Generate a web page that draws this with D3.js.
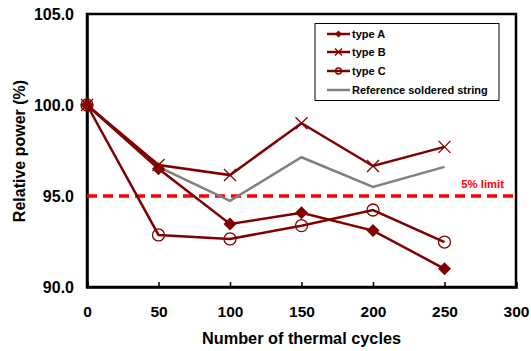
<!DOCTYPE html>
<html><head><meta charset="utf-8">
<script src="https://cdn.jsdelivr.net/npm/d3@7"></script>
<style>body{margin:0;background:#fff}svg{display:block;font-family:"Liberation Sans",Arial,sans-serif;font-weight:bold}</style>
</head><body><svg id="c" width="531" height="351"></svg>
<script>
const cycles = [0, 50, 100, 150, 200, 250];
const typeA = [100, 96.5, 93.46, 94.08, 93.1, 91.0];
const typeB = [100, 96.7, 96.15, 99.0, 96.65, 97.7];
const typeC = [100, 92.86, 92.64, 93.37, 94.23, 92.47];
const refString = [100, 96.6, 94.73, 97.13, 95.5, 96.6];
const limitValue = 95;
const xTicks = [0, 50, 100, 150, 200, 250, 300];
const yTicks = [90, 95, 100, 105];
const seriesNames = ["type A", "type B", "type C", "Reference soldered string"];

const svg = d3.select("#c");
const L = 87, R = 516, T = 14, B = 287;
const x = d3.scaleLinear().domain([0, 300]).range([L, R]);
const y = d3.scaleLinear().domain([90, 105]).range([B, T]);
const dark = "#800000", gray = "#808080";

// frame
svg.append("rect").attr("x", L).attr("y", T).attr("width", R - L).attr("height", B - T)
  .attr("fill", "none").attr("stroke", "#000").attr("stroke-width", 2.5);

// x axis
const xa = svg.append("g").attr("transform", `translate(0,${B})`)
  .call(d3.axisBottom(x).tickValues(xTicks).tickSize(-5).tickPadding(18.5).tickFormat(d3.format("d")));
xa.select(".domain").attr("stroke-width", 2.5);
xa.selectAll(".tick line").attr("stroke-width", 1.5);
xa.selectAll("text").attr("font-size", 15.5).attr("font-family", "Liberation Sans").attr("font-weight", "bold").attr("fill", "#000");

// y axis
const ya = svg.append("g").attr("transform", `translate(${L},0)`)
  .call(d3.axisLeft(y).tickValues(yTicks).tickSize(0).tickPadding(13).tickFormat(d3.format(".1f")));
ya.select(".domain").attr("stroke-width", 2.5);
ya.selectAll("text").attr("font-size", 16).attr("font-family", "Liberation Sans").attr("font-weight", "bold").attr("fill", "#000");

// axis titles
svg.append("text").attr("x", 301.5).attr("y", 343.5).attr("text-anchor", "middle")
  .attr("font-size", 16.3).text("Number of thermal cycles");
svg.append("text").attr("transform", `translate(24.5,151) rotate(-90)`).attr("text-anchor", "middle")
  .attr("font-size", 16).text("Relative power (%)");

// limit line
svg.append("line").attr("x1", L).attr("x2", R).attr("y1", y(limitValue)).attr("y2", y(limitValue))
  .attr("stroke", "#ff0000").attr("stroke-width", 3.5).attr("stroke-dasharray", "10,6");
svg.append("text").attr("x", 504).attr("y", y(limitValue) - 8).attr("text-anchor", "end")
  .attr("font-size", 11.3).attr("fill", "#ff0000").text("5% limit");

const line = d3.line().x((d, i) => x(cycles[i])).y(d => y(d));
function drawLine(data, color, w) {
  svg.append("path").datum(data).attr("d", line).attr("fill", "none")
    .attr("stroke", color).attr("stroke-width", w).attr("stroke-linejoin", "miter");
}
drawLine(refString, gray, 2.5);
drawLine(typeC, dark, 2.5);
drawLine(typeB, dark, 2.5);
drawLine(typeA, dark, 2.5);

function diamond(g, cx, cy, s) {
  g.append("path").attr("d", `M${cx},${cy - s}L${cx + s},${cy}L${cx},${cy + s}L${cx - s},${cy}Z`).attr("fill", dark);
}
function cross(g, cx, cy, s) {
  g.append("path").attr("d", `M${cx - s},${cy - s}L${cx + s},${cy + s}M${cx - s},${cy + s}L${cx + s},${cy - s}`)
    .attr("stroke", dark).attr("stroke-width", 1.3).attr("fill", "none");
}
function circ(g, cx, cy, r) {
  g.append("circle").attr("cx", cx).attr("cy", cy).attr("r", r).attr("fill", "none").attr("stroke", dark).attr("stroke-width", 1.3);
}
const mk = svg.append("g");
typeC.forEach((v, i) => circ(mk, x(cycles[i]), y(v), 6));
typeB.forEach((v, i) => cross(mk, x(cycles[i]), y(v), 6));
typeA.forEach((v, i) => diamond(mk, x(cycles[i]), y(v), 6.5));

// legend
svg.append("rect").attr("x", 315).attr("y", 23.5).attr("width", 184).attr("height", 77)
  .attr("fill", "#fff").attr("stroke", "#000").attr("stroke-width", 1);
const ly = [34, 52, 71, 90];
const lg = svg.append("g");
seriesNames.forEach((n, i) => {
  const yy = ly[i];
  lg.append("line").attr("x1", 327).attr("x2", 350).attr("y1", yy).attr("y2", yy)
    .attr("stroke", i === 3 ? gray : dark).attr("stroke-width", 2.5);
  if (i === 0) diamond(lg, 338.5, yy, 3.5);
  if (i === 1) cross(lg, 338.5, yy, 3.5);
  if (i === 2) circ(lg, 338.5, yy, 3);
  lg.append("text").attr("x", 352).attr("y", yy + 4).attr("font-size", 11).text(n);
});
</script></body></html>
